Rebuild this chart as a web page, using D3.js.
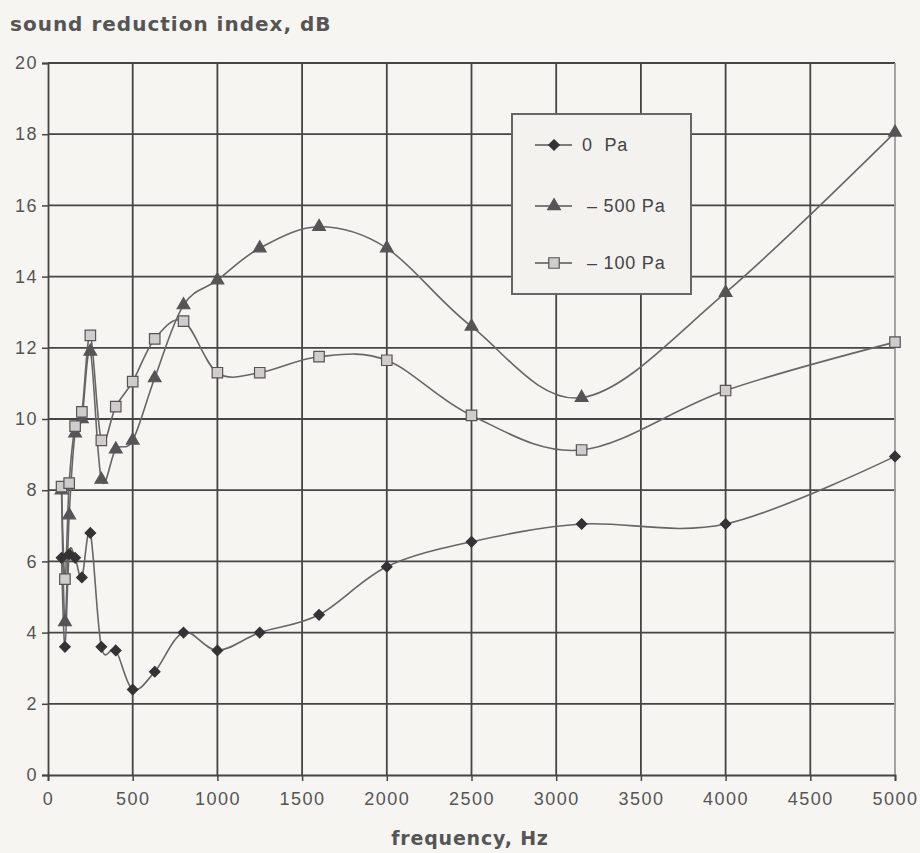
<!DOCTYPE html>
<html>
<head>
<meta charset="utf-8">
<script src="https://cdn.jsdelivr.net/npm/d3@7"></script>
<style>
  body { margin: 0; background: #f7f5f1; }
  svg { display: block; }
</style>
</head>
<body>
<script>
// 1/3 octave band centre frequencies, Hz
var freqs = [80, 100, 125, 160, 200, 250, 315, 400, 500, 630, 800, 1000, 1250, 1600, 2000, 2500, 3150, 4000, 5000];
// sound reduction index, dB
var pa0   = [6.1, 3.6, 6.2, 6.1, 5.55, 6.8, 3.6, 3.5, 2.4, 2.9, 4.0, 3.5, 4.0, 4.5, 5.85, 6.55, 7.05, 7.05, 8.95];
var pa500 = [8.0, 4.3, 7.3, 9.6, 10.0, 11.9, 8.3, 9.15, 9.4, 11.15, 13.2, 13.9, 14.8, 15.4, 14.8, 12.6, 10.6, 13.55, 18.05];
var pa100 = [8.1, 5.5, 8.2, 9.8, 10.2, 12.35, 9.4, 10.35, 11.05, 12.25, 12.75, 11.3, 11.3, 11.75, 11.65, 10.1, 9.13, 10.8, 12.16];

var seriesNames = ["0  Pa", "\u2013 500 Pa", "\u2013 100 Pa"];
var xTicks = [0, 500, 1000, 1500, 2000, 2500, 3000, 3500, 4000, 4500, 5000];
var yTicks = [0, 2, 4, 6, 8, 10, 12, 14, 16, 18, 20];

var fullWidth = 920, fullHeight = 853;
var margin = {top: 63, right: 25, bottom: 78, left: 48},
	width = fullWidth - margin.left - margin.right,
	height = fullHeight - margin.top - margin.bottom;

var xScale = d3.scaleLinear().domain([0, 5000]).range([0, width]);
var yScale = d3.scaleLinear().domain([0, 20]).range([height, 0]);

var svg = d3.select("body").append("svg")
	.attr("width", fullWidth)
	.attr("height", fullHeight);

var g = svg.append("g")
	.attr("transform", "translate(" + margin.left + "," + margin.top + ")");

var gridColor = "#454545";
var textColor = "#555";
var tickFont = "'Liberation Sans Narrow', 'Liberation Sans', Arial, sans-serif";

// horizontal grid
g.selectAll(".hgrid")
	.data(yTicks.filter(function(d) { return d > 0; }))
	.enter().append("line")
		.attr("class", "hgrid")
		.attr("x1", 0).attr("x2", width)
		.attr("y1", function(d) { return yScale(d); })
		.attr("y2", function(d) { return yScale(d); })
		.style("stroke", gridColor)
		.style("stroke-width", 1.8);

// vertical grid
g.selectAll(".vgrid")
	.data(xTicks.filter(function(d) { return d > 0 && d < 5000; }))
	.enter().append("line")
		.attr("class", "vgrid")
		.attr("y1", 0).attr("y2", height)
		.attr("x1", function(d) { return xScale(d); })
		.attr("x2", function(d) { return xScale(d); })
		.style("stroke", gridColor)
		.style("stroke-width", 1.8);

// right border (lighter)
g.append("line")
	.attr("x1", width).attr("x2", width)
	.attr("y1", 0).attr("y2", height)
	.style("stroke", "#999")
	.style("stroke-width", 1.8);

// axes
var xAxis = d3.axisBottom(xScale).tickValues(xTicks).tickFormat(d3.format("d")).tickSize(6).tickPadding(10);
var yAxis = d3.axisLeft(yScale).tickValues(yTicks).tickFormat(d3.format("d")).tickSize(6).tickPadding(4);

var gx = g.append("g")
	.attr("transform", "translate(0," + height + ")")
	.call(xAxis);
var gy = g.append("g").call(yAxis);

[gx, gy].forEach(function(ax) {
	ax.select(".domain").style("stroke", gridColor).style("stroke-width", 1.8);
	ax.selectAll(".tick line").style("stroke", gridColor).style("stroke-width", 1.5);
	ax.selectAll(".tick text")
		.style("font-family", tickFont)
		.style("font-size", "18px")
		.style("letter-spacing", "1.5px")
		.style("fill", textColor);
});
gx.selectAll(".tick text").attr("dy", "0.75em");

// series
var diamond = {draw: function(ctx, size) {
	var r = Math.sqrt(size) / 2;
	ctx.moveTo(0, -r); ctx.lineTo(r, 0); ctx.lineTo(0, r); ctx.lineTo(-r, 0); ctx.closePath();
}};

var series = [
	{name: seriesNames[0], values: pa0, symbol: diamond, size: 110, fill: "#333", stroke: "#333"},
	{name: seriesNames[1], values: pa500, symbol: d3.symbolTriangle, size: 70, fill: "#555", stroke: "#555"},
	{name: seriesNames[2], values: pa100, symbol: d3.symbolSquare, size: 110, fill: "#cfcccb", stroke: "#555"}
];

var line = d3.line()
	.x(function(d) { return xScale(d.f); })
	.y(function(d) { return yScale(d.v); })
	.curve(d3.curveCardinal.tension(0));

series.forEach(function(s) {
	var pts = freqs.map(function(f, i) { return {f: f, v: s.values[i]}; });
	g.append("path")
		.datum(pts)
		.attr("d", line)
		.style("fill", "none")
		.style("stroke", "#666")
		.style("stroke-width", 1.6);
	s.pts = pts;
});

series.forEach(function(s) {
	g.selectAll(null)
		.data(s.pts)
		.enter().append("path")
			.attr("transform", function(d) { return "translate(" + xScale(d.f) + "," + yScale(d.v) + ")"; })
			.attr("d", d3.symbol().type(s.symbol).size(s.size))
			.style("fill", s.fill)
			.style("stroke", s.stroke)
			.style("stroke-width", 1.2);
});

// legend
var legend = svg.append("g").attr("transform", "translate(512,114)");
legend.append("rect")
	.attr("width", 179)
	.attr("height", 180)
	.style("fill", "#f4f2ee")
	.style("stroke", "#666")
	.style("stroke-width", 2);

var item = legend.selectAll(".legend")
	.data(series)
	.enter().append("g")
		.attr("class", "legend")
		.attr("transform", function(d, i) { return "translate(0," + [31, 92, 149][i] + ")"; });

item.append("line")
	.attr("x1", 23).attr("x2", 60)
	.style("stroke", "#555")
	.style("stroke-width", 1.6);
item.append("path")
	.attr("transform", "translate(42,0)")
	.attr("d", function(d) { return d3.symbol().type(d.symbol).size(d.size)(); })
	.style("fill", function(d) { return d.fill; })
	.style("stroke", function(d) { return d.stroke; })
	.style("stroke-width", 1.2);
item.append("text")
	.attr("x", function(d, i) { return i === 0 ? 70 : 75; })
	.attr("dy", "0.35em")
	.style("font-family", "'Liberation Sans', Arial, sans-serif")
	.style("font-size", "18px")
	.style("letter-spacing", "0.8px")
	.style("fill", "#444")
	.style("white-space", "pre")
	.text(function(d) { return d.name; });

// titles
svg.append("text")
	.attr("x", 10)
	.attr("y", 31)
	.style("font-family", "'DejaVu Sans', Verdana, sans-serif")
	.style("font-weight", "bold")
	.style("font-size", "20px")
	.style("letter-spacing", "1px")
	.style("fill", textColor)
	.text("sound reduction index, dB");

svg.append("text")
	.attr("x", 470)
	.attr("y", 845)
	.style("text-anchor", "middle")
	.style("font-family", "'DejaVu Sans', Verdana, sans-serif")
	.style("font-weight", "bold")
	.style("font-size", "19px")
	.style("letter-spacing", "0.8px")
	.style("fill", textColor)
	.text("frequency, Hz");
</script>
</body>
</html>
